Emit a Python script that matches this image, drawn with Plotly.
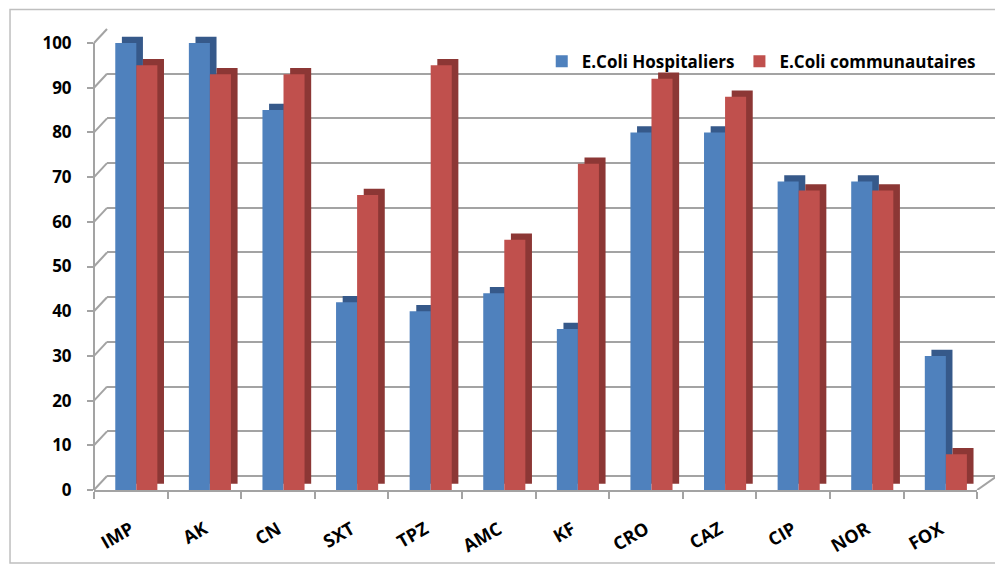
import plotly.graph_objects as go

categories = ["IMP", "AK", "CN", "SXT", "TPZ", "AMC", "KF", "CRO", "CAZ", "CIP", "NOR", "FOX"]
hospitaliers = [100, 100, 85, 42, 40, 44, 36, 80, 80, 69, 69, 30]
communautaires = [95, 93, 93, 66, 95, 56, 73, 92, 88, 67, 67, 8]
y_ticks = [0, 10, 20, 30, 40, 50, 60, 70, 80, 90, 100]

BLUE, BLUE_D = "#4F81BD", "#36598A"
RED, RED_D = "#C0504D", "#8C3735"
GRID = "#A3A3A3"
FONT = "Open Sans"

depth_x = 0.09    # category units
depth_y = 1.4     # value units
y_top = 103.36    # value at the top of the plotting area

fig = go.Figure()

# invisible trace for the back wall axes
fig.add_trace(go.Scatter(x=[0], y=[0], xaxis="x", yaxis="y", mode="markers",
                         marker=dict(opacity=0), showlegend=False, hoverinfo="skip"))

def add_series(vals, name, col, dark, off):
    fig.add_trace(go.Bar(x=categories, y=vals, base=depth_y, width=0.286, offset=off + depth_x,
                         marker=dict(color=dark, line=dict(width=0)), showlegend=False,
                         xaxis="x2", yaxis="y2", hoverinfo="skip"))
    fig.add_trace(go.Bar(x=categories, y=vals, width=0.286, offset=off, name=name,
                         marker=dict(color=col, line=dict(width=0)),
                         xaxis="x2", yaxis="y2"))

add_series(hospitaliers, "E.Coli Hospitaliers", BLUE, BLUE_D, -0.211)
add_series(communautaires, "E.Coli communautaires", RED, RED_D, 0.075)

shapes = []
# side wall connectors
for v in y_ticks:
    shapes.append(dict(type="line", xref="paper", yref="y2", x0=0, x1=0.0144,
                       y0=v, y1=v + 3.13, line=dict(color=GRID, width=2), layer="below"))
# front vertical axis line (0..100)
shapes.append(dict(type="line", xref="paper", yref="y2", x0=0, x1=0, y0=0, y1=y_ticks[-1],
                   line=dict(color=GRID, width=2)))
# floor right edge
shapes.append(dict(type="line", xref="paper", yref="y2", x0=0.978, x1=1, y0=0, y1=3.13,
                   line=dict(color=GRID, width=2), layer="below"))
# chart border
shapes.append(dict(type="rect", xref="paper", yref="paper", x0=-0.0930, x1=1.0033,
                   y0=-0.1580, y1=1.040, line=dict(color="#BFBFBF", width=1.5)))

# page body has an 8px margin: figure is offset by (8, 8)
fig.update_layout(
    width=995, height=561,
    margin=dict(l=86, r=6, t=20, b=79),
    paper_bgcolor="white", plot_bgcolor="rgba(0,0,0,0)",
    barmode="overlay",
    font=dict(family=FONT, color="black"),
    shapes=shapes,
    showlegend=True,
    legend=dict(orientation="h", x=0.982, xanchor="right", y=0.966, yanchor="top",
                font=dict(family=FONT, size=17, weight="bold"), bgcolor="rgba(0,0,0,0)",
                itemwidth=30, tracegroupgap=0),
    # back wall
    xaxis=dict(domain=[0.0144, 1], range=[-0.5, 11.5], showgrid=False, showline=False,
               showticklabels=False, zeroline=False, anchor="y"),
    yaxis=dict(domain=[0.0303, 1], range=[0, 100.2], tickvals=y_ticks, showgrid=True,
               gridcolor=GRID, gridwidth=2, showticklabels=False, zeroline=True,
               zerolinecolor=GRID, zerolinewidth=2, showline=False, anchor="x"),
    # front (bars)
    xaxis2=dict(domain=[0, 0.978], range=[-0.5, 11.5], type="category", anchor="y2",
                showgrid=False, showline=True, linecolor=GRID, linewidth=2,
                ticks="outside", tickson="boundaries", ticklen=7, tickcolor=GRID, tickwidth=2,
                tickangle=-30, ticklabelstandoff=20,
                tickfont=dict(family=FONT, size=18, weight="bold", color="black")),
    yaxis2=dict(domain=[0, 1], range=[0, y_top], tickvals=y_ticks, anchor="x2",
                showgrid=False, zeroline=False, showline=False,
                ticks="outside", ticklen=6, tickcolor=GRID, tickwidth=2, ticklabelstandoff=12,
                tickfont=dict(family=FONT, size=17, weight="bold", color="black")),
)

fig.write_html("out.html")
